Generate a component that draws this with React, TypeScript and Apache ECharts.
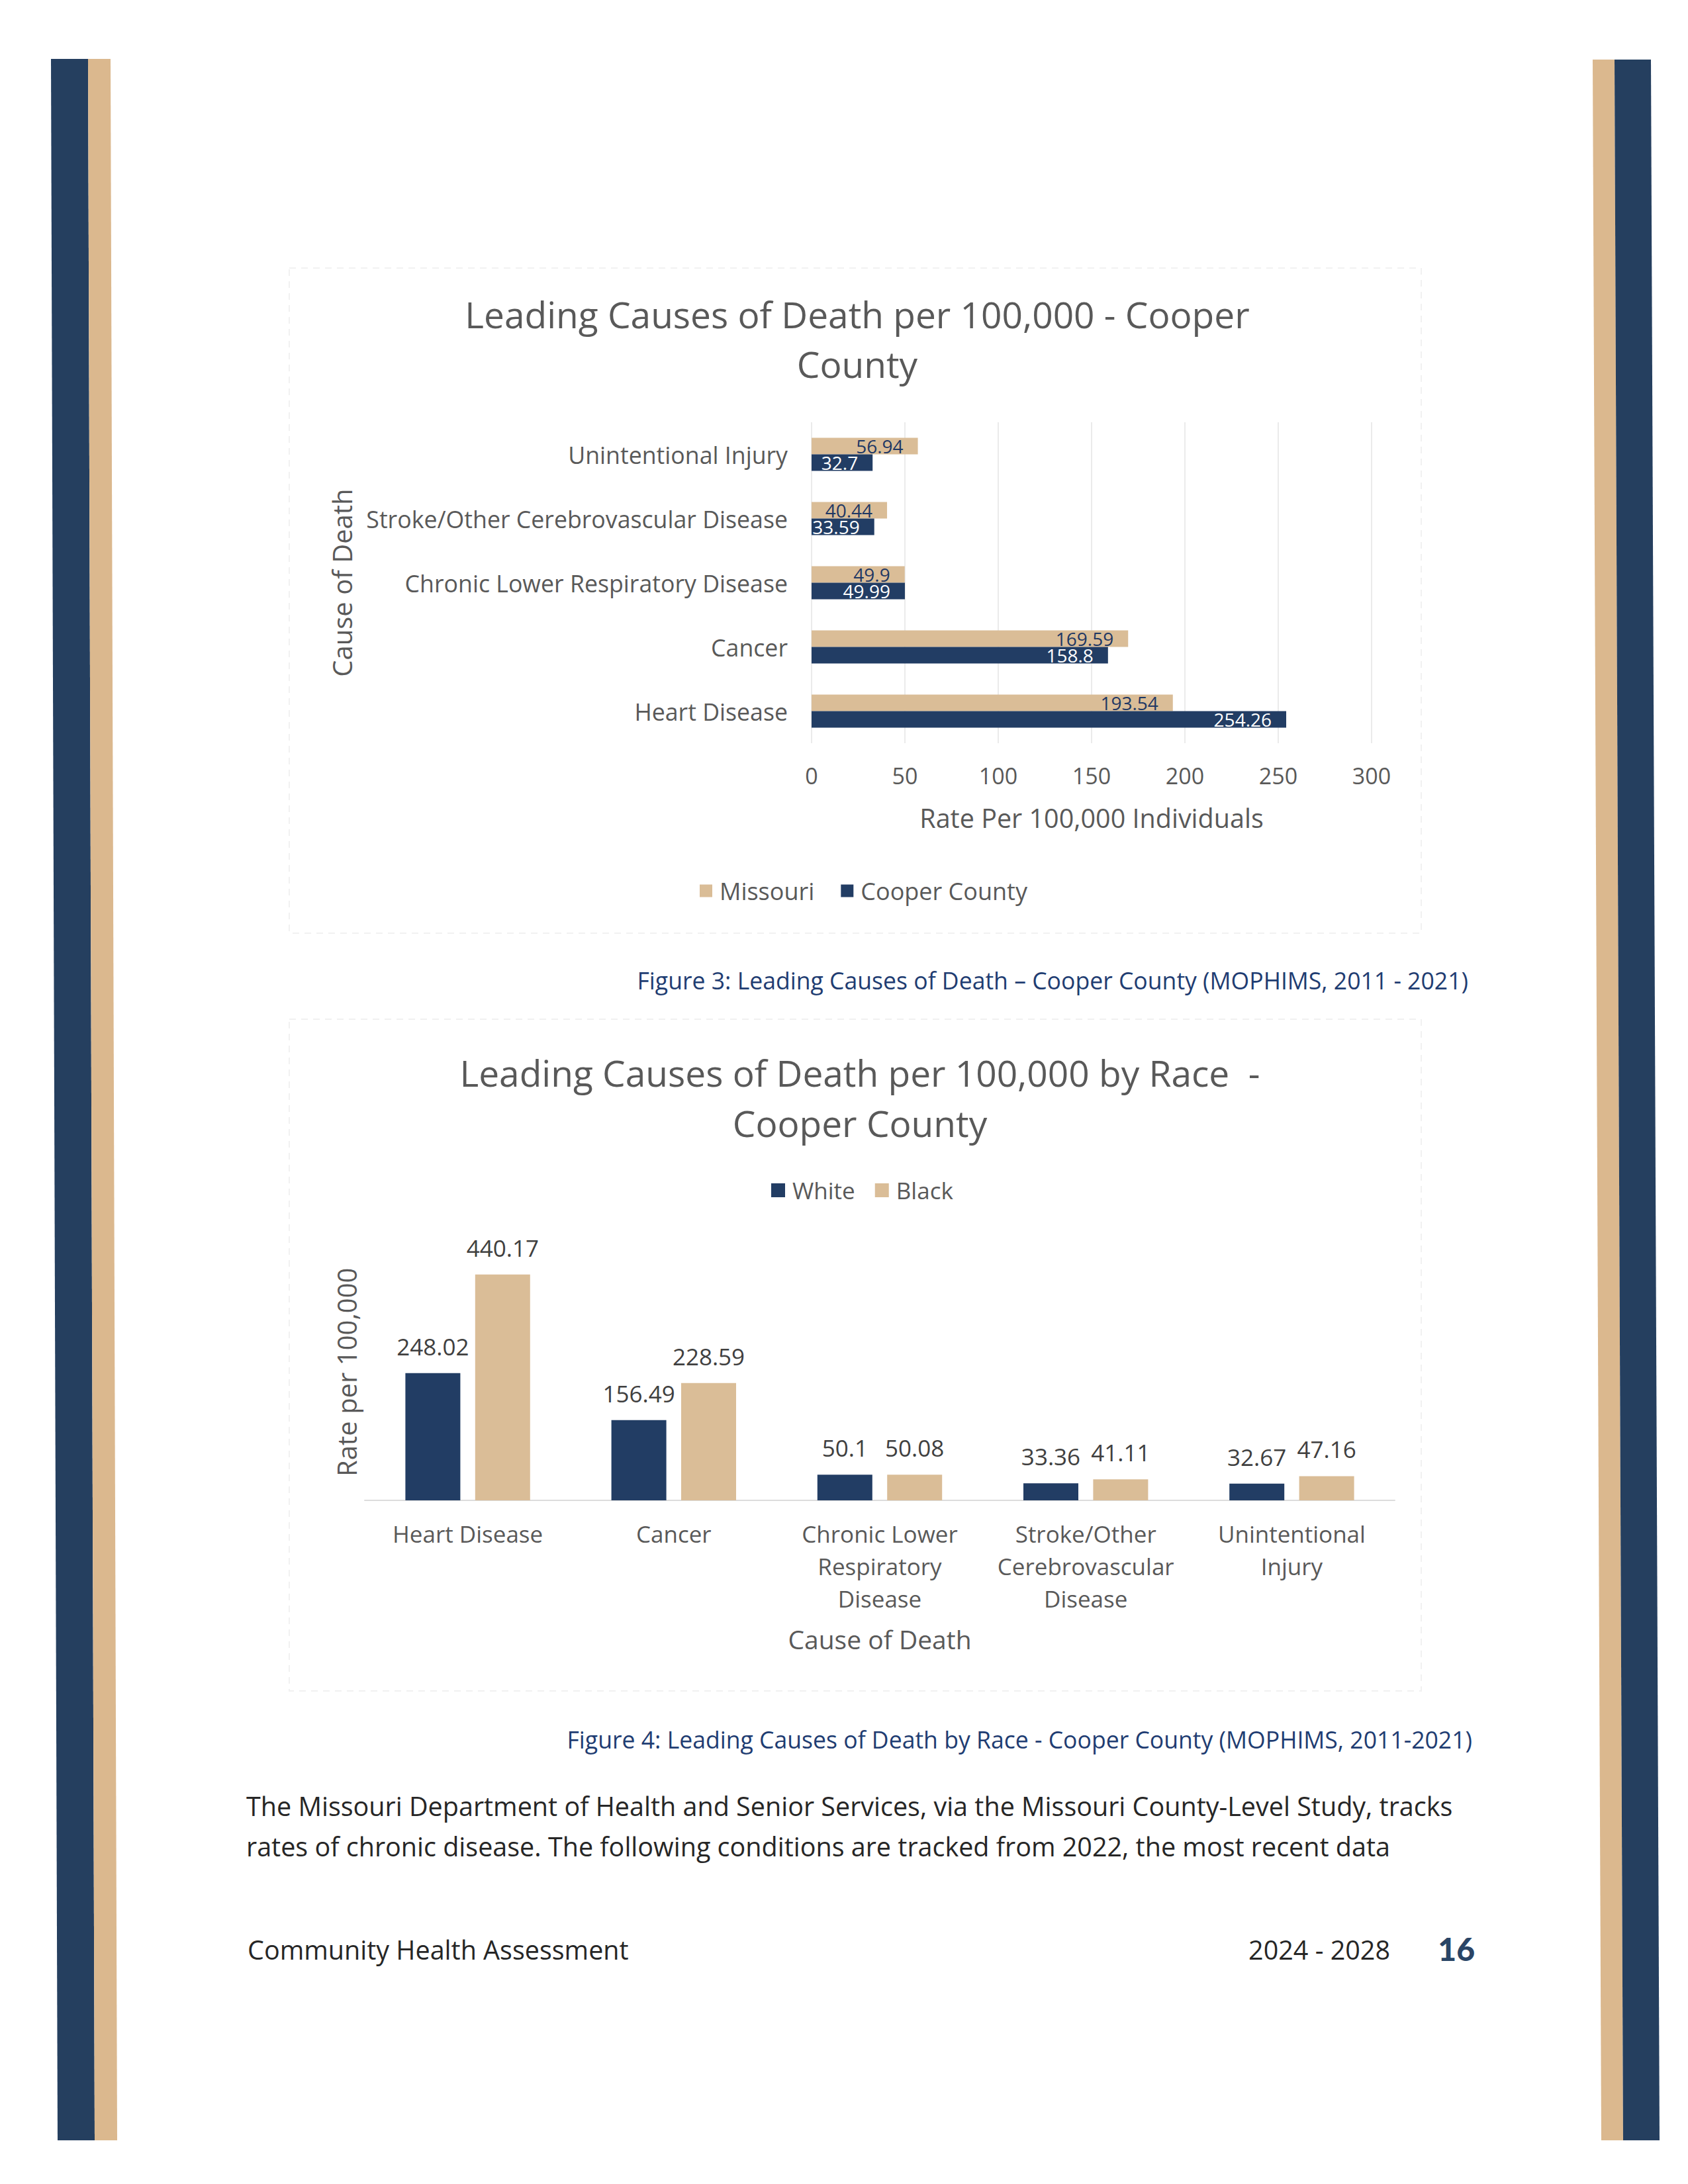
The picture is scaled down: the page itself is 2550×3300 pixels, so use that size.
import React, { useEffect, useRef } from "react";
import * as echarts from "echarts";

// ---------- Data ----------
const causeCategories = [
  "Heart Disease",
  "Cancer",
  "Chronic Lower Respiratory Disease",
  "Stroke/Other Cerebrovascular Disease",
  "Unintentional Injury",
];
const missouriRates = [193.54, 169.59, 49.9, 40.44, 56.94];
const cooperRates = [254.26, 158.8, 49.99, 33.59, 32.7];
const rateAxisMin = 0;
const rateAxisMax = 300;
const rateAxisInterval = 50;

const raceCategories = [
  "Heart Disease",
  "Cancer",
  "Chronic Lower Respiratory Disease",
  "Stroke/Other Cerebrovascular Disease",
  "Unintentional Injury",
];
const raceCategoryLabels = [
  "Heart Disease",
  "Cancer",
  "Chronic Lower\nRespiratory\nDisease",
  "Stroke/Other\nCerebrovascular\nDisease",
  "Unintentional\nInjury",
];
const whiteRates = [248.02, 156.49, 50.1, 33.36, 32.67];
const blackRates = [440.17, 228.59, 50.08, 41.11, 47.16];
const raceAxisMax = 500;

const bodyLines = [
  "The Missouri Department of Health and Senior Services, via the Missouri County-Level Study, tracks",
  "rates of chronic disease. The following conditions are tracked from 2022, the most recent data",
];

// ---------- Styles ----------
const FONT = "'Open Sans', 'Noto Sans', sans-serif";
const GRAY = "#595959";
const NAVY = "#223d64";
const TAN = "#dabd97";
const BORDER_NAVY = "#253f5f";
const BORDER_TAN = "#dbb88e";
const CAPTION_BLUE = "#1f3d72";
const FRAME = "#f1f1f1";

export default function App() {
  const ref = useRef<HTMLDivElement>(null);

  useEffect(() => {
    if (!ref.current) return;
    const chart = echarts.init(ref.current, undefined, { renderer: "svg" });

    const option: any = {
      animation: false,
      backgroundColor: "#ffffff",
      textStyle: { fontFamily: FONT },
      title: [
        {
          text: "Leading Causes of Death per 100,000 - Cooper\nCounty",
          left: 1290,
          top: 432,
          textAlign: "center",
          textStyle: { fontFamily: FONT, fontSize: 55, fontWeight: "normal", color: GRAY, lineHeight: 75 },
        },
        {
          text: "Leading Causes of Death per 100,000 by Race  -\nCooper County",
          left: 1294,
          top: 1577,
          textAlign: "center",
          textStyle: { fontFamily: FONT, fontSize: 55, fontWeight: "normal", color: GRAY, lineHeight: 76 },
        },
      ],
      legend: [
        {
          data: ["Missouri", "Cooper County"],
          left: 1052,
          top: 1323,
          icon: "rect",
          itemWidth: 19,
          itemHeight: 19,
          itemGap: 40,
          textStyle: { fontFamily: FONT, fontSize: 36, color: GRAY, padding: [0, 0, 0, 6] },
        },
        {
          data: ["White", "Black"],
          left: 1160,
          top: 1776,
          icon: "rect",
          itemWidth: 21,
          itemHeight: 21,
          itemGap: 30,
          textStyle: { fontFamily: FONT, fontSize: 35, color: GRAY, padding: [0, 0, 0, 6] },
        },
      ],
      grid: [
        { left: 1226, top: 638, width: 846, height: 485 },
        { left: 551, top: 1879.5, width: 1556, height: 387.5 },
      ],
      xAxis: [
        {
          gridIndex: 0,
          type: "value",
          min: rateAxisMin,
          max: rateAxisMax,
          interval: rateAxisInterval,
          axisLine: { show: false },
          axisTick: { show: false },
          splitLine: { lineStyle: { color: "#ebebeb", width: 2 } },
          axisLabel: { fontFamily: FONT, fontSize: 34, color: GRAY, margin: 32 },
          name: "Rate Per 100,000 Individuals",
          nameLocation: "middle",
          nameGap: 93,
          nameTextStyle: { fontFamily: FONT, fontSize: 39.5, color: GRAY },
        },
        {
          gridIndex: 1,
          type: "category",
          data: raceCategories,
          axisLine: { lineStyle: { color: "#dcdcdc", width: 2 } },
          axisTick: { show: false },
          axisLabel: {
            interval: 0,
            fontFamily: FONT,
            fontSize: 35,
            lineHeight: 49,
            color: GRAY,
            margin: 26,
            formatter: (_v: string, i: number) => raceCategoryLabels[i],
          },
          name: "Cause of Death",
          nameLocation: "middle",
          nameGap: 190,
          nameTextStyle: { fontFamily: FONT, fontSize: 39, color: GRAY },
        },
      ],
      yAxis: [
        {
          gridIndex: 0,
          type: "category",
          data: causeCategories,
          axisLine: { show: false },
          axisTick: { show: false },
          axisLabel: { fontFamily: FONT, fontSize: 35.7, color: GRAY, margin: 36, padding: [0, 0, 8, 0] },
          name: "Cause of Death",
          nameLocation: "middle",
          nameGap: 690,
          nameTextStyle: { fontFamily: FONT, fontSize: 40, color: GRAY },
        },
        {
          gridIndex: 1,
          type: "value",
          min: 0,
          max: raceAxisMax,
          axisLine: { show: false },
          axisTick: { show: false },
          axisLabel: { show: false },
          splitLine: { show: false },
          name: "Rate per 100,000",
          nameLocation: "middle",
          nameGap: 8,
          nameTextStyle: { fontFamily: FONT, fontSize: 40, color: GRAY },
        },
      ],
      series: [
        {
          name: "Missouri",
          type: "bar",
          xAxisIndex: 0,
          yAxisIndex: 0,
          data: missouriRates,
          barWidth: 25,
          barGap: "0%",
          itemStyle: { color: TAN },
          label: {
            show: true,
            position: "insideRight",
            distance: 22,
            fontFamily: FONT,
            fontSize: 28,
            lineHeight: 24,
            color: "#1f3864",
          },
        },
        {
          name: "Cooper County",
          type: "bar",
          xAxisIndex: 0,
          yAxisIndex: 0,
          data: cooperRates,
          barWidth: 25,
          barGap: "0%",
          itemStyle: { color: NAVY },
          label: {
            show: true,
            position: "insideRight",
            distance: 22,
            fontFamily: FONT,
            fontSize: 28,
            lineHeight: 24,
            color: "#ffffff",
          },
        },
        {
          name: "White",
          type: "bar",
          xAxisIndex: 1,
          yAxisIndex: 1,
          data: whiteRates,
          barWidth: 83,
          barGap: "27%",
          itemStyle: { color: NAVY },
          label: { show: true, position: "top", distance: 23, fontFamily: FONT, fontSize: 35, color: "#404040" },
        },
        {
          name: "Black",
          type: "bar",
          xAxisIndex: 1,
          yAxisIndex: 1,
          data: blackRates,
          barWidth: 83,
          barGap: "27%",
          itemStyle: { color: TAN },
          label: { show: true, position: "top", distance: 23, fontFamily: FONT, fontSize: 35, color: "#404040" },
        },
      ],
      graphic: [
        // page border stripes
        { type: "polygon", silent: true, shape: { points: [[77, 89], [133, 89], [143, 3234], [87, 3234]] }, style: { fill: BORDER_NAVY } },
        { type: "polygon", silent: true, shape: { points: [[133, 89], [167, 89], [177, 3234], [143, 3234]] }, style: { fill: BORDER_TAN } },
        { type: "polygon", silent: true, shape: { points: [[2406, 90], [2439, 90], [2452, 3234], [2419, 3234]] }, style: { fill: BORDER_TAN } },
        { type: "polygon", silent: true, shape: { points: [[2439, 90], [2494, 90], [2507, 3234], [2452, 3234]] }, style: { fill: BORDER_NAVY } },
        // faint chart frames
        { type: "rect", silent: true, shape: { x: 437, y: 405, width: 1710, height: 1005 }, style: { fill: "none", stroke: FRAME, lineWidth: 2, lineDash: [10, 8] } },
        { type: "rect", silent: true, shape: { x: 437, y: 1540, width: 1710, height: 1015 }, style: { fill: "none", stroke: FRAME, lineWidth: 2, lineDash: [10, 8] } },
        // captions
        {
          type: "text",
          x: 2218,
          y: 1481,
          style: {
            text: "Figure 3: Leading Causes of Death \u2013 Cooper County (MOPHIMS, 2011 - 2021)",
            fill: CAPTION_BLUE,
            font: `35.6px ${FONT}`,
            align: "right",
            verticalAlign: "middle",
          },
        },
        {
          type: "text",
          x: 2224,
          y: 2628,
          style: {
            text: "Figure 4: Leading Causes of Death by Race - Cooper County (MOPHIMS, 2011-2021)",
            fill: CAPTION_BLUE,
            font: `35.6px ${FONT}`,
            align: "right",
            verticalAlign: "middle",
          },
        },
        // body text
        {
          type: "text",
          x: 372,
          y: 2729,
          style: { text: bodyLines[0], fill: "#262626", font: `39.5px ${FONT}`, align: "left", verticalAlign: "middle" },
        },
        {
          type: "text",
          x: 372,
          y: 2790,
          style: { text: bodyLines[1], fill: "#262626", font: `39.5px ${FONT}`, align: "left", verticalAlign: "middle" },
        },
        // footer
        {
          type: "text",
          x: 374,
          y: 2946,
          style: { text: "Community Health Assessment", fill: "#262626", font: `39.5px ${FONT}`, align: "left", verticalAlign: "middle" },
        },
        {
          type: "text",
          x: 2100,
          y: 2946,
          style: { text: "2024 - 2028", fill: "#262626", font: `39.5px ${FONT}`, align: "right", verticalAlign: "middle" },
        },
        {
          type: "text",
          x: 2228,
          y: 2944,
          style: { text: "16", fill: "#2a4566", font: `900 48px Lato, ${FONT}`, align: "right", verticalAlign: "middle" },
        },
      ],
    };

    chart.setOption(option);
    return () => chart.dispose();
  }, []);

  return (
    <div
      ref={ref}
      style={{ position: "absolute", left: 0, top: 0, width: 2550, height: 3300, background: "#ffffff" }}
    />
  );
}
